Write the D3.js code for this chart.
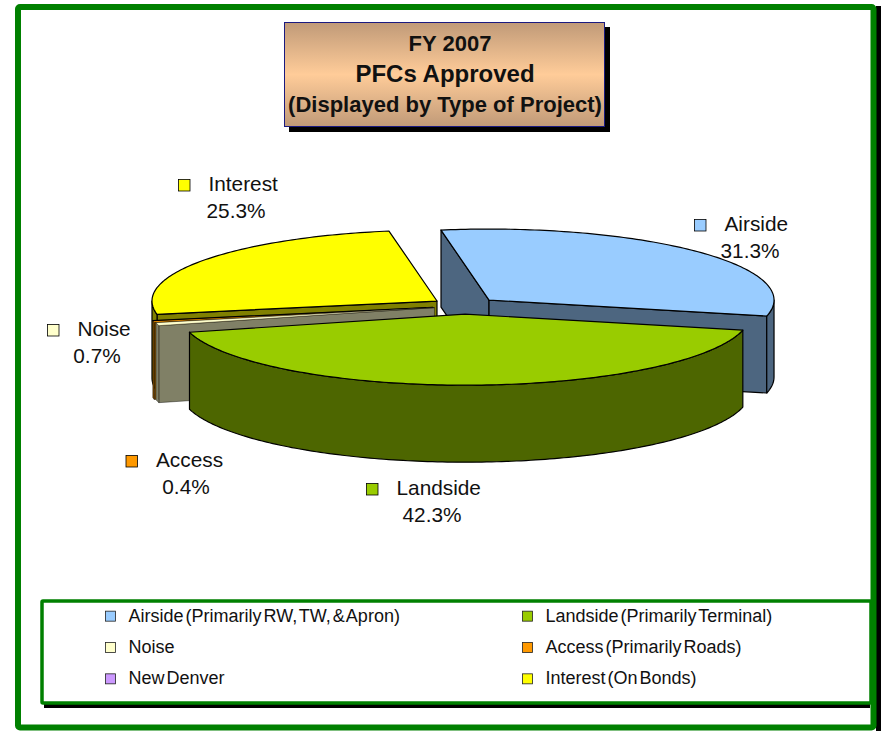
<!DOCTYPE html>
<html>
<head>
<meta charset="utf-8">
<script src="https://cdn.jsdelivr.net/npm/d3@7"></script>
<style>
html, body { margin: 0; padding: 0; background: #fff; }
svg { display: block; }
text { font-family: "Liberation Sans", Arial, sans-serif; fill: #111; }
</style>
</head>
<body>
<div id="chart"></div>
<script>
// data
var categories = ["Airside", "Landside", "Noise", "Access", "New Denver", "Interest"];
var shares = [31.3, 42.3, 0.7, 0.4, 0, 25.3];
var legendNames = ["Airside (Primarily RW, TW, & Apron)", "Landside (Primarily Terminal)", "Noise",
                   "Access (Primarily Roads)", "New Denver", "Interest (On Bonds)"];
var titleLines = ["FY 2007", "PFCs Approved", "(Displayed by Type of Project)"];

var w = 881;
var h = 731;

var topColors = d3.scaleOrdinal().domain(categories)
  .range(["#99ccff", "#99cc00", "#ffffcc", "#ff9900", "#cc99ff", "#ffff00"]);
var sideColors = d3.scaleOrdinal().domain(categories)
  .range(["#4d6680", "#4d6600", "#808066", "#804d00", "#664d80", "#808000"]);

// pie geometry
var cx = 464.6, cy = 305.8;
var rx = 285, ry = 71;
var depth = 77;
var explode = d3.scaleOrdinal().domain(categories).range([33.6, 33.6, 31, 32.5, 32.5, 33.6]);
var rad = Math.PI / 180;

var pie = d3.pie().sort(null).value(function(d){ return d; })
  .startAngle(-9.7 * rad).endAngle((360 - 9.7) * rad);
var slices = pie(shares);

var svg = d3.select("#chart").append("svg").attr("width", w).attr("height", h);

var defs = svg.append("defs");
var grad = defs.append("linearGradient").attr("id", "tan")
  .attr("x1", 0).attr("y1", 0).attr("x2", 0).attr("y2", 1);
grad.append("stop").attr("offset", "0%").attr("stop-color", "#c09a78");
grad.append("stop").attr("offset", "50%").attr("stop-color", "#ffcc99");
grad.append("stop").attr("offset", "100%").attr("stop-color", "#c09a78");

// outer frame, its shadow only shows on the right
svg.append("rect").attr("x", 876).attr("y", 6).attr("width", 5).attr("height", 725).attr("fill", "#000");
svg.append("rect").attr("x", 18).attr("y", 7).attr("width", 855.5).attr("height", 720.5)
  .attr("rx", 2).attr("fill", "#fff").attr("stroke", "#008000").attr("stroke-width", 6);

// title box
svg.append("rect").attr("x", 289).attr("y", 27).attr("width", 321).attr("height", 105).attr("fill", "#000");
svg.append("rect").attr("x", 284.5).attr("y", 22.5).attr("width", 320).attr("height", 104)
  .attr("fill", "url(#tan)").attr("stroke", "#1a1a80").attr("stroke-width", 1);
svg.selectAll(".title").data(titleLines).enter().append("text")
  .attr("class", "title")
  .attr("x", function(d, i){ return i == 0 ? 450 : 445; })
  .attr("y", function(d, i){ return 51 + i * 30.5; })
  .attr("text-anchor", "middle")
  .attr("font-size", function(d, i){ return i == 1 ? 24 : 22; })
  .attr("font-weight", "bold")
  .text(function(d){ return d; });

// a point of the tilted pie, angle clockwise from the top
function rim(o, a, z) {
  return [o[0] + rx * Math.sin(a), o[1] - ry * Math.cos(a) + (z || 0)];
}
function origin(s, name) {
  var mid = (s.startAngle + s.endAngle) / 2;
  var e = explode(name);
  return [cx + e * Math.sin(mid), cy - e * (ry / rx) * Math.cos(mid)];
}
function arcPoints(o, a0, a1, z) {
  var n = Math.max(2, Math.ceil(Math.abs(a1 - a0) / (1 * rad)));
  return d3.range(n + 1).map(function(i){ return rim(o, a0 + (a1 - a0) * i / n, z); });
}
var line = d3.line();
function closed(pts) { return line(pts) + "Z"; }

function drawFace(g, o, a, color) {
  var p = rim(o, a);
  g.append("path")
    .attr("d", closed([o, p, [p[0], p[1] + depth], [o[0], o[1] + depth]]))
    .attr("fill", color);
}

// back to front, as the slices overlap
var order = [5, 0, 3, 4, 2, 1];
var pieG = svg.append("g").attr("stroke", "#000").attr("stroke-linejoin", "round");

order.forEach(function(i){
  var s = slices[i];
  var name = categories[i];
  var o = origin(s, name);
  var g = pieG.append("g").attr("class", "slice")
    .attr("stroke-width", shares[i] > 0 && shares[i] < 1 ? 0.4 : 1.2);
  // New Denver has no share, only its top edge shows as a dark line
  if (shares[i] > 0) {
    if (Math.sin(s.startAngle) < 0) drawFace(g, o, s.startAngle, sideColors(name));
    if (Math.sin(s.endAngle) > 0) drawFace(g, o, s.endAngle, sideColors(name));
    var a0 = Math.max(s.startAngle, 90 * rad), a1 = Math.min(s.endAngle, 270 * rad);
    if (a1 > a0) {
      var topEdge = arcPoints(o, a0, a1, 0);
      var lowEdge = arcPoints(o, a1, a0, depth);
      g.append("path").attr("d", closed(topEdge.concat(lowEdge))).attr("fill", sideColors(name));
    }
  }
  g.append("path")
    .attr("d", closed([o].concat(arcPoints(o, s.startAngle, s.endAngle, 0))))
    .attr("fill", topColors(name));
});

// data labels
var pctX = d3.scaleOrdinal().domain(categories).range([750, 432, 97, 186, 0, 236]);
var labelY = d3.scaleOrdinal().domain(categories).range([231, 495, 336, 467, 0, 191]);
var keyX = d3.scaleOrdinal().domain(categories).range([700, 372, 53, 131.5, 0, 184]);
var labelled = categories.filter(function(d, i){ return shares[i] > 0; });

var labels = svg.selectAll(".label").data(labelled).enter().append("g").attr("class", "label");
labels.append("rect")
  .attr("x", function(d){ return keyX(d) - 5.5; })
  .attr("y", function(d){ return labelY(d) - 11.5; })
  .attr("width", 11.5).attr("height", 11.5)
  .attr("fill", function(d){ return topColors(d); })
  .attr("stroke", "#000").attr("stroke-width", 0.8);
labels.append("text")
  .attr("x", function(d){ return keyX(d) + 24.5; })
  .attr("y", function(d){ return labelY(d); })
  .attr("font-size", 20.8)
  .text(function(d){ return d; });
labels.append("text")
  .attr("x", function(d){ return pctX(d); })
  .attr("y", function(d){ return labelY(d) + 27; })
  .attr("font-size", 20.8)
  .attr("text-anchor", "middle")
  .text(function(d){ return shares[categories.indexOf(d)].toFixed(1) + "%"; });

// legend box
svg.append("rect").attr("x", 44).attr("y", 604).attr("width", 826).attr("height", 104).attr("fill", "#000");
svg.append("rect").attr("x", 42).attr("y", 601).attr("width", 829).attr("height", 102)
  .attr("rx", 1).attr("fill", "#fff").attr("stroke", "#008000").attr("stroke-width", 3.5);

var legendCol = d3.scaleOrdinal().domain([0, 1]).range([105, 522]);
var legendRow = d3.scaleBand().domain([0, 1, 2]).range([600, 694]);
var legend = svg.selectAll(".legend").data(categories).enter().append("g")
  .attr("class", "legend")
  .attr("transform", function(d, i){
    return "translate(" + legendCol(i % 2) + "," + (legendRow(Math.floor(i / 2)) + legendRow.bandwidth() / 2) + ")";
  });
legend.append("rect").attr("x", 0.5).attr("y", -4.5).attr("width", 10).attr("height", 10)
  .attr("fill", function(d){ return topColors(d); })
  .attr("stroke", "#222").attr("stroke-width", 0.8);
legend.append("text")
  .attr("x", 23.5)
  .attr("y", 6)
  .attr("font-size", 18)
  .attr("word-spacing", -3)
  .text(function(d, i){ return legendNames[i]; });
</script>
</body>
</html>
